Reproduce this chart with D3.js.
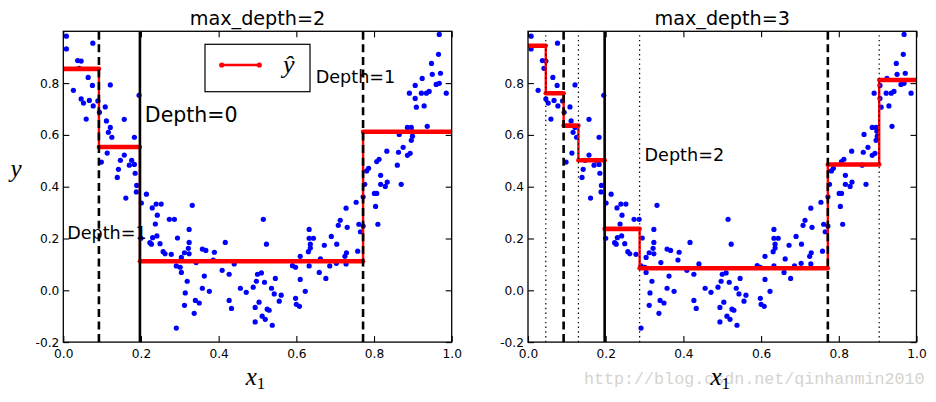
<!DOCTYPE html>
<html><head><meta charset="utf-8">
<script src="https://cdn.jsdelivr.net/npm/d3@7"></script>
<style>body{margin:0;background:#fff}</style>
</head><body>
<svg id="c" width="936" height="402" xmlns="http://www.w3.org/2000/svg"></svg>
<script>
// ---- data ----
const pointsX = [
0.008,0.008,0.037,0.046,0.076,0.064,0.075,0.026,0.046,0.052,0.067,0.077,0.059,0.089,0.093,0.121,0.108,0.111,0.121,0.116,
0.125,0.157,0.183,0.195,0.113,0.098,0.147,0.157,0.142,0.139,0.170,0.176,0.183,0.185,0.189,0.188,0.161,0.201,0.214,0.229,
0.239,0.237,0.242,0.200,0.230,0.241,0.223,0.227,0.249,0.041,
0.252,0.332,0.273,0.286,0.324,0.294,0.324,0.322,0.257,0.262,0.278,0.312,0.324,0.304,0.358,0.367,0.389,0.417,0.291,0.301,
0.304,0.319,0.363,0.409,0.427,0.440,0.314,0.358,0.376,0.340,0.350,0.312,0.337,0.291,0.427,0.433,0.456,0.471,0.489,0.497,
0.500,0.494,0.504,0.494,0.342,0.386,
0.515,0.523,0.510,0.518,0.546,0.536,0.543,0.561,0.556,0.525,0.530,0.512,0.520,0.538,0.590,0.598,0.610,0.610,0.623,0.598,
0.600,0.608,0.631,0.636,0.636,0.633,0.644,0.633,0.633,0.659,0.676,0.662,0.672,0.686,0.690,0.704,0.703,0.708,0.713,0.728,
0.731,0.725,0.729,0.728,0.754,0.761,0.758,
0.765,0.772,0.772,0.776,0.781,0.786,0.807,0.813,0.833,0.801,0.807,0.804,0.810,0.817,0.817,0.829,0.834,0.860,0.863,0.870,
0.875,0.886,0.893,0.896,0.899,0.865,0.886,0.896,0.937,0.891,0.906,0.906,0.909,0.922,0.935,0.942,0.929,0.924,0.950,0.948,
0.960,0.968,0.971,0.966,0.968,0.986,0.898
];
const pointsY = [
0.981,0.932,0.887,0.885,0.954,0.822,0.791,0.772,0.739,0.723,0.733,0.712,0.661,0.731,0.687,0.793,0.708,0.654,0.629,0.610,
0.591,0.660,0.591,0.753,0.530,0.495,0.502,0.522,0.467,0.436,0.483,0.502,0.486,0.452,0.405,0.380,0.356,0.337,0.371,0.318,
0.333,0.256,0.290,0.201,0.203,0.210,0.184,0.178,0.180,0.857,
0.333,0.328,0.274,0.274,0.235,0.202,0.185,0.162,0.149,0.141,0.139,0.145,0.141,0.127,0.159,0.154,0.147,0.185,0.094,0.089,
0.069,0.035,0.055,0.077,0.062,0.102,-0.010,0.008,-0.004,-0.039,-0.049,-0.058,-0.089,-0.146,-0.039,-0.070,0.008,-0.008,0.012,0.035,
0.062,-0.066,-0.046,-0.122,0.107,0.117,
0.274,0.178,0.067,0.031,0.046,0.008,-0.014,-0.019,-0.042,-0.073,-0.077,-0.100,-0.112,-0.135,0.095,0.089,0.131,0.042,-0.004,-0.031,
-0.054,-0.062,0.149,0.163,0.178,0.201,0.201,0.235,0.094,0.069,0.046,0.121,0.174,0.094,0.208,0.178,0.104,0.251,0.270,0.317,
0.243,0.131,0.145,0.102,0.340,0.255,0.151,
0.226,0.248,0.361,0.409,0.461,0.471,0.497,0.506,0.537,0.374,0.374,0.324,0.255,0.444,0.409,0.401,0.418,0.483,0.533,0.409,
0.552,0.521,0.529,0.579,0.595,0.602,0.629,0.629,0.633,0.761,0.791,0.741,0.707,0.761,0.761,0.768,0.712,0.818,0.834,0.876,
0.795,0.799,0.838,0.911,0.988,0.761,0.614
];
const xTicks = [0.0, 0.2, 0.4, 0.6, 0.8, 1.0];
const yTicks = [-0.2, 0.0, 0.2, 0.4, 0.6, 0.8];
const depth2Splits = [0.0917, 0.1973, 0.7718];
const depth2Values = [0.855, 0.553, 0.112, 0.612];
const depth3Splits = [0.0458, 0.0917, 0.1298, 0.1973, 0.2873, 0.7718, 0.9040];
const depth3Values = [0.944, 0.761, 0.636, 0.502, 0.237, 0.085, 0.486, 0.812];
const boundaryX = [0.1973, 0.0917, 0.7718];
const boundaryStyle = ["solid", "dashed", "dashed"];
const dottedX = [0.0458, 0.1298, 0.2873, 0.9040];
const titles = ["max_depth=2", "max_depth=3"];

// ---- layout ----
const svg = d3.select("#c");
const plotTop = 31.3, plotBottom = 342.1;
const panels = [
  {left: 63.3, right: 451.7, splits: depth2Splits, values: depth2Values, dotted: [], title: titles[0],
   notes: [{x:0.21,y:0.65,t:"Depth=0",s:20.5},{x:0.01,y:0.2,t:"Depth=1",s:17.6},{x:0.65,y:0.8,t:"Depth=1",s:17.6}],
   legend: true, ylabel: true},
  {left: 528, right: 916.5, splits: depth3Splits, values: depth3Values, dotted: dottedX, title: titles[1],
   notes: [{x:0.3,y:0.5,t:"Depth=2",s:17.6}], legend: false, ylabel: false}
];
const sansFont = "'DejaVu Sans', sans-serif";
const mathFont = "'Liberation Serif', 'DejaVu Serif', serif";

// watermark (behind)
svg.append("text").attr("x", 584).attr("y", 384).attr("font-family", "'Liberation Mono', monospace")
  .attr("font-size", 16.7).attr("fill", "#d6d3cd").text("http://blog.csdn.net/qinhanmin2010");

panels.forEach((p, pi) => {
  const x = d3.scaleLinear().domain([0, 1]).range([p.left, p.right]);
  const y = d3.scaleLinear().domain([-0.2, 1]).range([plotBottom, plotTop]);
  const g = svg.append("g");
  const clipId = "clip" + pi;
  svg.append("clipPath").attr("id", clipId).append("rect")
    .attr("x", p.left).attr("y", plotTop).attr("width", p.right - p.left).attr("height", plotBottom - plotTop);
  const plot = g.append("g").attr("clip-path", `url(#${clipId})`);

  // scatter
  plot.selectAll("circle").data(d3.range(pointsX.length)).join("circle")
    .attr("cx", i => x(pointsX[i])).attr("cy", i => y(pointsY[i])).attr("r", 2.6)
    .attr("fill", "#0000ff");

  // prediction step
  const bounds = [0, ...p.splits, 1];
  const stepPts = [];
  p.values.forEach((v, i) => { stepPts.push([bounds[i], v]); stepPts.push([bounds[i + 1], v]); });
  plot.append("path").datum(stepPts)
    .attr("d", d3.line().x(d => x(d[0])).y(d => y(d[1])))
    .attr("fill", "none").attr("stroke", "#ff0000").attr("stroke-width", 2.4);
  plot.selectAll("line.seg").data(p.values).join("line").attr("class", "seg")
    .attr("x1", (v, i) => x(bounds[i])).attr("x2", (v, i) => x(bounds[i + 1]))
    .attr("y1", v => y(v)).attr("y2", v => y(v))
    .attr("stroke", "#ff0000").attr("stroke-width", 4.6).attr("stroke-linecap", "round");

  // split lines
  boundaryX.forEach((s, i) => {
    plot.append("line").attr("x1", x(s)).attr("x2", x(s)).attr("y1", y(-0.2)).attr("y2", y(1))
      .attr("stroke", "#000").attr("stroke-width", 2.6)
      .attr("stroke-dasharray", boundaryStyle[i] === "dashed" ? "8,4.6" : null);
  });
  p.dotted.forEach(s => {
    plot.append("line").attr("x1", x(s)).attr("x2", x(s)).attr("y1", y(-0.2)).attr("y2", y(1))
      .attr("stroke", "#000").attr("stroke-width", 1.2).attr("stroke-dasharray", "1.4,3.3");
  });

  // axes (inside ticks on all four sides)
  const fmt = v => v.toFixed(1);
  const styleAxis = a => {
    a.select(".domain").remove();
    a.selectAll(".tick line").attr("stroke", "#000").attr("stroke-width", 1.1);
    a.selectAll("text").attr("font-family", sansFont).attr("font-size", 12.2).attr("fill", "#000");
  };
  g.append("g").attr("transform", `translate(0,${plotBottom})`)
    .call(d3.axisBottom(x).tickValues(xTicks).tickFormat(fmt).tickSizeInner(-6).tickSizeOuter(0).tickPadding(7))
    .call(styleAxis);
  g.append("g").attr("transform", `translate(0,${plotTop})`)
    .call(d3.axisTop(x).tickValues(xTicks).tickFormat("").tickSizeInner(-6).tickSizeOuter(0))
    .call(styleAxis);
  g.append("g").attr("transform", `translate(${p.left},0)`)
    .call(d3.axisLeft(y).tickValues(yTicks).tickFormat(fmt).tickSizeInner(-6).tickSizeOuter(0).tickPadding(4))
    .call(styleAxis);
  g.append("g").attr("transform", `translate(${p.right},0)`)
    .call(d3.axisRight(y).tickValues(yTicks).tickFormat("").tickSizeInner(-6).tickSizeOuter(0))
    .call(styleAxis);

  // frame
  g.append("rect").attr("x", p.left).attr("y", plotTop).attr("width", p.right - p.left).attr("height", plotBottom - plotTop)
    .attr("fill", "none").attr("stroke", "#000").attr("stroke-width", 1.3);

  // annotations
  p.notes.forEach(n => {
    g.append("text").attr("x", x(n.x)).attr("y", y(n.y)).text(n.t)
      .attr("font-family", sansFont).attr("font-size", n.s).attr("fill", "#000");
  });

  // title
  g.append("text").attr("x", (p.left + p.right) / 2).attr("y", 25).attr("text-anchor", "middle")
    .attr("font-family", sansFont).attr("font-size", 19.2).text(p.title);

  // x label
  const xl = g.append("text").attr("x", (p.left + p.right) / 2 - 2).attr("y", 385).attr("text-anchor", "middle")
    .attr("font-family", mathFont).attr("font-size", 25).attr("fill", "#000");
  xl.append("tspan").attr("font-style", "italic").text("x");
  xl.append("tspan").attr("font-size", 17).attr("dy", 4).text("1");

  if (p.ylabel) {
    g.append("text").attr("x", 16).attr("y", 177).attr("text-anchor", "middle")
      .attr("font-family", mathFont).attr("font-style", "italic").attr("font-size", 25).text("y");
  }

  if (p.legend) {
    const lg = g.append("g");
    lg.append("rect").attr("x", 205).attr("y", 44.3).attr("width", 105).attr("height", 47.4)
      .attr("fill", "#fff").attr("stroke", "#000").attr("stroke-width", 1.2);
    lg.append("line").attr("x1", 221.7).attr("x2", 259.3).attr("y1", 65).attr("y2", 65)
      .attr("stroke", "#ff0000").attr("stroke-width", 2.6);
    [221.7, 259.3].forEach(cx => lg.append("circle").attr("cx", cx).attr("cy", 65).attr("r", 2.6).attr("fill", "#ff0000"));
    lg.append("text").attr("x", 283).attr("y", 73).attr("font-family", mathFont).attr("font-style", "italic")
      .attr("font-size", 26).text("ŷ");
  }
});
</script>
</body></html>
